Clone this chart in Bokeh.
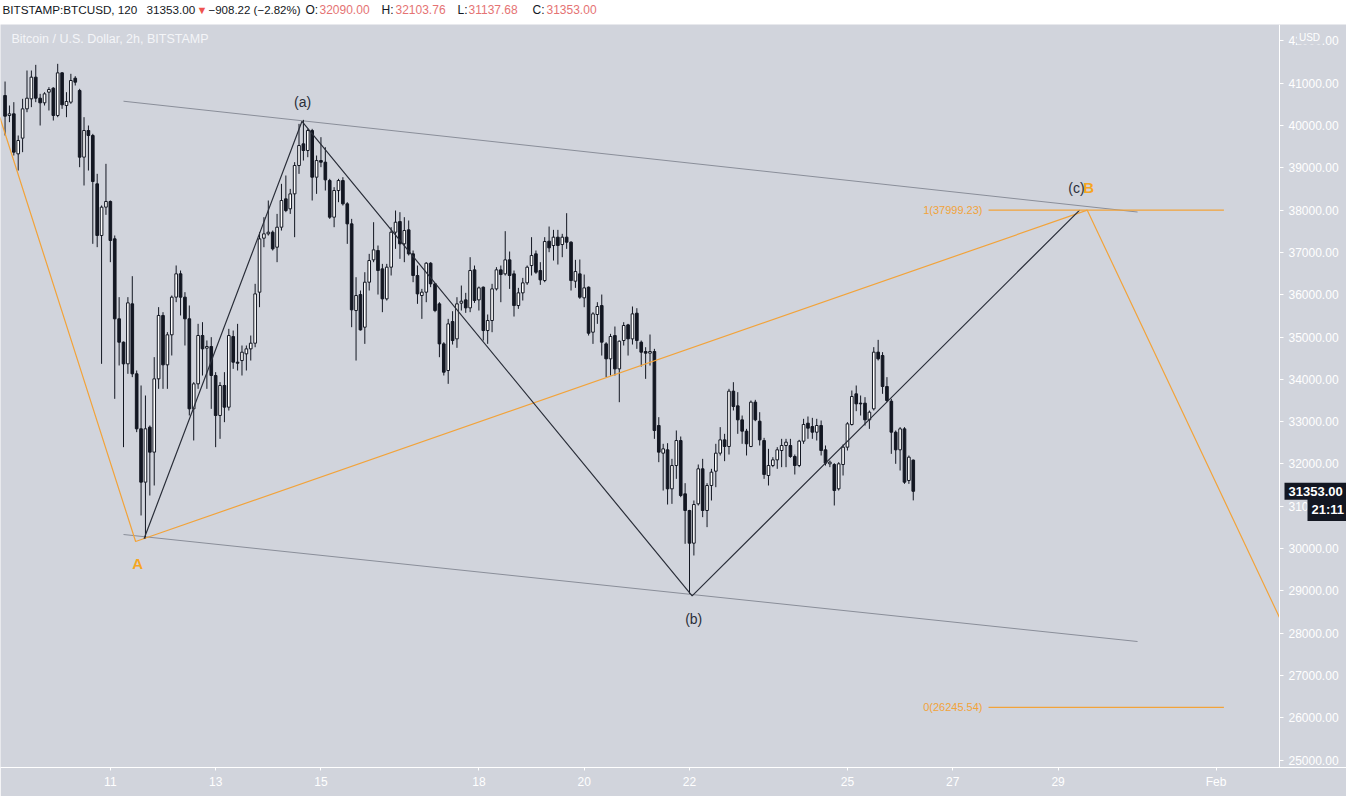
import pandas as pd
from bokeh.plotting import figure
from bokeh.layouts import column
from bokeh.models import Range1d, LinearAxis, FixedTicker, Label, ColumnDataSource, PrintfTickFormatter
from bokeh.embed import file_html
from bokeh.resources import INLINE
from bokeh.core.properties import value

# ---------------- data ----------------
first_bar = "2021-01-09 00:00"
bar_freq = "2h"

opens = [40709, 40237, 40276, 39330, 39701, 40394, 40631, 41143, 40646, 40536,
         40788, 40883, 40237, 41245, 40473, 40552, 41119, 40828, 39252, 39882,
         39764, 38621, 37400, 38070, 38204, 37321, 35430, 34878, 34366, 35784,
         34130, 32830, 31569, 32869, 32278, 34011, 35509, 34342, 35052, 35942,
         36494, 35942, 35430, 33302, 33893, 35036, 34736, 34776, 34090, 33145,
         33854, 33341, 35011, 34405, 34444, 34602, 34720, 34854, 36060, 37336,
         37439, 37478, 37123, 37596, 38266, 38030, 38384, 39054, 39566, 39409,
         39881, 38778, 39172, 39133, 38699, 37833, 38463, 38699, 38148, 37675,
         35626, 36004, 35232, 36296, 36824, 37045, 36611, 35902, 36651, 37478,
         37730, 37202, 37533, 36966, 36454, 35981, 36060, 36745, 36257, 35784,
         34838, 34208, 35366, 34956, 35800, 35878, 35689, 36588, 35878, 36178,
         35153, 35390, 36138, 36588, 36493, 36824, 36493, 35744, 36044, 36280,
         36690, 36966, 36572, 36335, 37265, 37163, 37360, 37186, 37360, 37242,
         36320, 36493, 35926, 36178, 35114, 35532, 35744, 34838, 34484, 35035,
         34247, 34917, 35287, 34956, 35563, 34878, 34657, 34618, 34657, 32908,
         32254, 32333, 31411, 31962, 32553, 31293, 30899, 30126, 31056, 31884,
         30899, 31490, 31828, 32254, 32569, 32412, 33720, 33373, 33042, 32774,
         32412, 33460, 33010, 32553, 31726, 31962, 32096, 32317, 32435, 32435,
         32175, 31962, 32538, 32963, 32884, 32750, 32908, 32333, 32002, 31986,
         31411, 31986, 32396, 32932, 33657, 33436, 33436, 33042, 33302, 34642,
         34563, 33830, 33483, 32750, 32333, 32829, 31608, 32090.00]
highs = [41040, 40473, 40552, 39764, 40631, 41300, 41300, 41434, 40749, 40788,
         40906, 40906, 41458, 41261, 40788, 41222, 41166, 40867, 40197, 40000,
         39803, 38858, 38109, 39094, 38227, 37400, 35942, 34894, 35942, 36438,
         34208, 33854, 33617, 32908, 34524, 35706, 35587, 35115, 35981, 36691,
         36572, 36060, 35745, 33933, 35312, 35351, 34918, 34996, 34169, 33933,
         34169, 35193, 35153, 35311, 34799, 34799, 35035, 36257, 37478, 37833,
         38227, 37517, 37911, 38621, 38818, 38502, 39133, 40039, 40134, 39921,
         39921, 39290, 39724, 39487, 38739, 38542, 38739, 38778, 38187, 37793,
         36414, 36099, 36532, 36966, 37714, 37163, 36729, 36729, 37596, 37990,
         37951, 37833, 37754, 37045, 36690, 36138, 36769, 36769, 36272, 35823,
         34878, 35429, 35610, 35941, 36217, 36044, 36887, 36690, 36194, 36194,
         35532, 36257, 36651, 36690, 37502, 37021, 36572, 36162, 36398, 36690,
         37360, 37045, 36769, 37360, 37612, 37533, 37533, 37439, 37927, 37265,
         36824, 36832, 36477, 36194, 35587, 35823, 36004, 34878, 35075, 35248,
         34917, 35350, 35311, 35721, 35681, 34917, 34759, 35059, 34720, 33105,
         32475, 32490, 32120, 32790, 32648, 31545, 30914, 31135, 31986, 32120,
         31545, 31884, 32475, 32869, 32711, 33775, 33932, 33696, 33144, 32829,
         33499, 33515, 33223, 32616, 32356, 32159, 32396, 32593, 32593, 32593,
         32222, 32569, 33066, 33121, 33089, 33066, 33026, 32435, 32081, 32018,
         32041, 32459, 32987, 33735, 33854, 33617, 33578, 33263, 34760, 34933,
         34642, 34051, 33538, 32790, 32869, 32869, 32199, 32103.76]
lows = [39764, 40079, 39291, 38936, 39370, 40315, 40434, 40552, 40000, 40473,
        40355, 40118, 40197, 40394, 40197, 40512, 40946, 39015, 38582, 38936,
        37203, 37124, 34366, 37888, 36769, 33539, 34327, 32396, 34130, 34051,
        32751, 30781, 30229, 31253, 31490, 33775, 33775, 33775, 34563, 35824,
        35509, 34799, 33145, 32554, 33775, 34090, 33775, 33302, 32396, 32593,
        32987, 33262, 34247, 34208, 34090, 34208, 34444, 34759, 35705, 37123,
        37399, 37045, 36769, 37517, 37951, 37911, 37360, 38857, 39172, 39251,
        38227, 38384, 39015, 38463, 37793, 37596, 38187, 38108, 37202, 35232,
        34444, 35153, 34838, 36099, 36769, 36004, 35587, 35863, 36454, 37084,
        36848, 36769, 36927, 36296, 35784, 35429, 35823, 36178, 35587, 34523,
        34090, 33893, 34822, 34744, 35626, 35571, 35587, 35807, 35626, 34917,
        34838, 35114, 36099, 35823, 36454, 36138, 35484, 35666, 35863, 36233,
        36454, 36493, 36233, 36296, 37005, 36808, 36714, 36887, 37084, 36099,
        36162, 35902, 35705, 35035, 34838, 35311, 34562, 34050, 34090, 34090,
        33459, 34799, 34562, 34822, 34720, 34302, 34011, 34326, 32593, 32041,
        31371, 31040, 31056, 31647, 31214, 30111, 28929, 29835, 31017, 30741,
        30505, 31135, 31450, 32199, 32065, 32222, 33263, 32711, 32475, 32199,
        32396, 33010, 32435, 31647, 31490, 31923, 31884, 31923, 31923, 32144,
        31750, 31923, 32475, 32593, 32593, 32553, 32199, 31962, 31923, 31017,
        31371, 31726, 32317, 32908, 33247, 33144, 32908, 32829, 33263, 34445,
        33657, 33460, 32238, 32002, 31844, 31529, 31529, 31137.68]
closes = [40221, 40276, 39370, 39646, 40394, 40646, 41143, 40646, 40536, 40749,
          40851, 40237, 41245, 40489, 40568, 41064, 41025, 39252, 39882, 39764,
          38676, 37400, 38070, 38204, 37282, 35430, 34878, 34366, 35808, 34130,
          32830, 31569, 32830, 32278, 34011, 35509, 34342, 35052, 35942, 36494,
          35942, 35430, 33302, 33893, 35036, 34721, 34776, 34090, 33145, 33854,
          33342, 35035, 34405, 34381, 34641, 34720, 34854, 36020, 37320, 37439,
          37478, 37084, 37596, 38227, 37990, 38384, 39054, 39527, 39409, 39881,
          38778, 39172, 39133, 38715, 37833, 38463, 38699, 38148, 37675, 35642,
          35981, 35169, 36296, 36808, 37060, 36572, 35902, 36651, 37478, 37714,
          37202, 37517, 36966, 36454, 36020, 36060, 36745, 36257, 35626, 34838,
          34168, 35311, 34917, 35784, 35847, 35689, 36572, 35863, 36162, 35153,
          35390, 36138, 36588, 36477, 36824, 36454, 35744, 36044, 36280, 36651,
          36926, 36532, 36351, 37257, 37108, 37360, 37163, 37360, 37242, 36335,
          36548, 35941, 36162, 35090, 35547, 35721, 34878, 34484, 35012, 34247,
          34901, 35272, 34956, 35547, 34917, 34641, 34618, 34657, 32790, 32278,
          32356, 31411, 31962, 32553, 31253, 30899, 30126, 31040, 31884, 30899,
          31490, 31805, 32254, 32569, 32412, 33720, 33357, 33042, 32774, 32475,
          33460, 33042, 32569, 31750, 31962, 32096, 32333, 32435, 32514, 32175,
          31962, 32538, 32932, 32845, 32750, 32908, 32317, 32018, 32041, 31371,
          32002, 32396, 32947, 33594, 33420, 33420, 33042, 33223, 34642, 34484,
          33830, 33499, 32750, 32333, 32829, 31568, 32159, 31353.00]

day_ticks = [11, 13, 15, 18, 20, 22, 25, 27, 29, 32]
day_tick_labels = ["11", "13", "15", "18", "20", "22", "25", "27", "29", "Feb"]
price_ticks = list(range(25000, 43000, 1000))

# Elliott wave (a)-(b)-(c), black
wave_days = [11.64, 14.64, 22.05, 29.41]
wave_prices = [30229, 40100, 28880, 38000]
wave_labels = ["(a)", "(b)", "(c)"]
wave_label_days = [14.65, 22.08, 29.35]
wave_label_prices = [40567, 28322, 38511]

# orange A-B zigzag
orange_days = [8.90, 11.48, 29.555, 33.206]
orange_prices = [40200, 30165, 37999.23, 28369]
orange_labels = ["A", "B"]
orange_label_days = [11.52, 29.58]
orange_label_prices = [29645, 38534]

# grey channel
chan_days = [11.25, 30.51]
chan_upper = [40574, 37955]
chan_lower = [30331, 27801]

# fib levels
fib_levels = [37999.23, 26245.54]
fib_texts = ["1(37999.23)", "0(26245.54)"]
fib_days = [27.68, 32.15]

header_symbol = "BITSTAMP:BTCUSD, 120"
last_price = "31353.00"
change_text = "\u2212908.22 (\u22122.82%)"
ohlc_keys = ["O:", "H:", "L:", "C:"]
ohlc_vals = ["32090.00", "32103.76", "31137.68", "31353.00"]
chart_title = "Bitcoin / U.S. Dollar, 2h, BITSTAMP"
countdown = "21:11"

# ---------------- layout constants ----------------
BG = "#d1d4dc"
DARK = "#131722"
RED = "#ef5350"
ORANGE = "#f2a33a"
PX_PER_DAY = 52.65
SCALE_PX = 1279  # price-scale separator

def day_at(px):
    return 22 + (px - 689) / PX_PER_DAY

X0 = day_at(0)
X1 = day_at(1346)
Y0, Y1 = 24823, 42388
FONT = value("Liberation Sans")

t = pd.date_range(first_bar, periods=len(closes), freq=bar_freq)
days = list((t - pd.Timestamp("2021-01-01")) / pd.Timedelta("1D") + 1)

src = ColumnDataSource(dict(
    t=days, o=opens, h=highs, l=lows, c=closes,
    top=[max(a, b) for a, b in zip(opens, closes)],
    bot=[min(a, b) for a, b in zip(opens, closes)],
    fill=["white" if c >= o else DARK for o, c in zip(opens, closes)],
))

# ---------------- header ----------------
hdr = figure(width=1346, height=24, x_range=Range1d(0, 1346), y_range=Range1d(24, 0),
             output_backend="svg", toolbar_location=None,
             x_axis_location=None, y_axis_location=None,
             min_border=0, background_fill_color="white", border_fill_color="white",
             outline_line_color=None)
hdr.grid.grid_line_color = None
hdr.text(x=[2, 146], y=[9, 9], text=[header_symbol, last_price], text_color=DARK,
         text_font=FONT, text_font_size="11.7px", text_baseline="middle", text_align="left")
hdr.text(x=[196], y=[9], text=["\u25BC"], text_color=RED,
         text_font=FONT, text_font_size="11px", text_baseline="middle", text_align="left")
hdr.text(x=[208], y=[9], text=[change_text], text_color=DARK,
         text_font=FONT, text_font_size="11.5px", text_baseline="middle", text_align="left")
ohlc_x = [305, 381, 457, 532]
hdr.text(x=ohlc_x, y=[9] * 4, text=ohlc_keys, text_color=DARK,
         text_font=FONT, text_font_size="12px", text_baseline="middle", text_align="left")
hdr.text(x=[xx + (11 if k == "L:" else 14) for k, xx in zip(ohlc_keys, ohlc_x)], y=[9] * 4,
         text=ohlc_vals, text_color="#e57373",
         text_font=FONT, text_font_size="12px", text_baseline="middle", text_align="left")

# ---------------- main chart ----------------
p = figure(width=1346, height=772, x_range=Range1d(X0, X1), y_range=Range1d(Y0, Y1),
           output_backend="svg", toolbar_location=None,
           x_axis_location=None, y_axis_location=None,
           min_border_left=0, min_border_right=0, min_border_top=0, min_border_bottom=29,
           background_fill_color=BG, border_fill_color=BG, outline_line_color=None)
p.grid.grid_line_color = None

yax = LinearAxis(ticker=FixedTicker(ticks=price_ticks), formatter=PrintfTickFormatter(format="%.2f"),
                 fixed_location=day_at(SCALE_PX),
                 axis_line_color="white", major_tick_line_color="white", major_tick_out=4, major_tick_in=0,
                 minor_tick_line_color=None, major_label_text_color="white",
                 major_label_text_font_size="12px", major_label_text_font="Liberation Sans",
                 major_label_standoff=5)
p.add_layout(yax, "right")
xax = LinearAxis(ticker=FixedTicker(ticks=day_ticks),
                 major_label_overrides={d: s for d, s in zip(day_ticks, day_tick_labels)},
                 axis_line_color="white", major_tick_line_color="white", major_tick_out=3, major_tick_in=0,
                 minor_tick_line_color=None, major_label_text_color="white",
                 major_label_text_font_size="12px", major_label_text_font="Liberation Sans",
                 major_label_standoff=4)
p.add_layout(xax, "below")

# channel
p.line(chan_days, chan_upper, line_color="#8a8e99", line_width=1)
p.line(chan_days, chan_lower, line_color="#8a8e99", line_width=1)

# candles
p.segment(x0="t", y0="l", x1="t", y1="h", source=src, line_color=DARK, line_width=1)
p.vbar(x="t", width=0.05, top="top", bottom="bot", fill_color="fill", line_color=DARK,
       line_width=1, source=src)

# wave lines
p.line(orange_days, orange_prices, line_color=ORANGE, line_width=1.2)
p.line(wave_days, wave_prices, line_color="#2a2e39", line_width=1.2)

# fib
for lvl in fib_levels:
    p.line(fib_days, [lvl, lvl], line_color=ORANGE, line_width=1.2)
p.text(x=[day_at(982)] * 2, y=fib_levels, text=fib_texts, text_color=ORANGE, text_font=FONT,
       text_font_size="11px", text_align="right", text_baseline="middle")

# labels
p.text(x=wave_label_days, y=wave_label_prices, text=wave_labels, text_color="#2a2e39",
       text_font=FONT, text_font_size="14px", text_align="center", text_baseline="middle")
p.text(x=orange_label_days, y=orange_label_prices, text=orange_labels, text_color="#f5a623",
       text_font=FONT, text_font_size="15px", text_font_style="bold",
       text_align="center", text_baseline="middle")

p.text(x=[day_at(11)], y=[42057], text=[chart_title], text_color="#f4f5f8", text_font=FONT,
       text_font_size="12.5px", text_align="left", text_baseline="middle")

# right scale badges
p.add_layout(Label(x=day_at(1309), y=42090, text="USD", text_color="white", text_font="Liberation Sans",
                   text_font_size="10px", text_align="center", text_baseline="middle",
                   background_fill_color=BG, padding=2))
p.add_layout(Label(x=day_at(1284), y=float(closes[-1]), text=last_price, text_color="white",
                   text_font="Liberation Sans", text_font_size="13px", text_font_style="bold",
                   text_align="left", text_baseline="middle",
                   background_fill_color=DARK, padding=4))
p.add_layout(Label(x=day_at(1307), y=30922, text=countdown, text_color="white",
                   text_font="Liberation Sans", text_font_size="13px", text_font_style="bold",
                   text_align="left", text_baseline="middle",
                   background_fill_color=DARK, padding=4))

layout = column(hdr, p, spacing=0)
open("out.html", "w").write(file_html(layout, INLINE))
